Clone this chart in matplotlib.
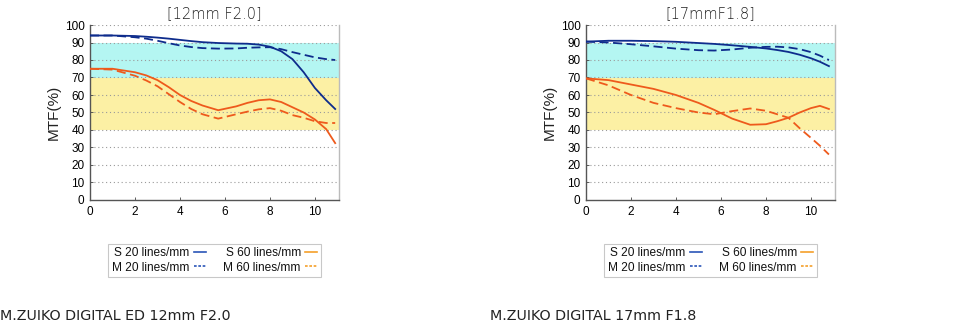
import matplotlib
matplotlib.use("Agg")
import matplotlib.pyplot as plt
from matplotlib.lines import Line2D

# image height (mm) for each lens
x_12 = [0, 1, 2, 2.5, 3, 3.5, 4, 4.5, 5, 5.7, 6.5, 7, 7.5, 8, 8.5, 9, 9.5, 10, 10.5, 10.9]
s20_12 = [94, 94, 93.7, 93.3, 92.8, 92.2, 91.5, 90.8, 90.2, 89.7, 89.4, 89.3, 88.8, 87.6, 85, 80.5, 73, 64, 57, 52]
m20_12 = [94, 94, 93, 92.2, 91, 89.6, 88.3, 87.4, 86.8, 86.5, 86.6, 87, 87.2, 87.3, 86.2, 84.5, 83, 81.5, 80.5, 80]
s60_12 = [75, 75, 73, 71.2, 68.5, 64.5, 60, 56.6, 54, 51.3, 53.5, 55.5, 57, 57.5, 56, 53, 50, 46, 40.5, 32.5]
m60_12 = [75, 74.5, 71, 68.3, 65, 60.5, 56, 52, 49, 46.5, 49, 50.5, 51.8, 52.5, 51, 48.5, 47, 45, 44, 44]

x_17 = [0, 1, 2, 3, 4, 5, 5.7, 6.5, 7.3, 8, 8.5, 9, 9.5, 10, 10.4, 10.8]
s20_17 = [90.5, 91, 91, 90.8, 90.4, 89.7, 89.2, 88.4, 87.5, 86.6, 85.7, 84.6, 83, 81, 79, 76.5]
m20_17 = [90.5, 90, 89, 87.8, 86.5, 85.6, 85.4, 86, 87, 87.5, 87.6, 87.2, 86.2, 84.5, 82.5, 80]
s60_17 = [69.5, 68.5, 66, 63.5, 60, 55.5, 51.5, 46.5, 43, 43.3, 45, 47, 50, 52.5, 53.8, 52]
m60_17 = [69.5, 65.5, 60, 55.5, 52.5, 50, 49, 50.8, 52.3, 51, 49, 47, 41, 35.5, 31, 26]

titles = ["[12mm F2.0]", "[17mmF1.8]"]
captions = ["M.ZUIKO DIGITAL ED 12mm F2.0", "M.ZUIKO DIGITAL 17mm F1.8"]
legend_labels = ["S 20 lines/mm", "M 20 lines/mm", "S 60 lines/mm", "M 60 lines/mm"]
yticks = list(range(0, 101, 10))
xticks = [0, 2, 4, 6, 8, 10]

blue = "#0e2c8c"
orange = "#ee5a1c"
blue_leg = "#2a55b8"
orange_leg = "#f5a02a"

plt.rcParams["font.family"] = ["Liberation Sans", "DejaVu Sans"]

fig = plt.figure(figsize=(9.77, 3.34), dpi=100)

lefts = [90 / 977, 586 / 977]
w = 249 / 977
bottom = 1 - 200 / 334
h = 175 / 334

series = [
    (x_12, s20_12, m20_12, s60_12, m60_12),
    (x_17, s20_17, m20_17, s60_17, m60_17),
]

for i in range(2):
    ax = fig.add_axes([lefts[i], bottom, w, h])
    xs, s20, m20, s60, m60 = series[i]
    ax.axhspan(70, 90, color="#b4f6f2", lw=0, zorder=0)
    ax.axhspan(40, 70, color="#fcf0a4", lw=0, zorder=0)
    for v in yticks[1:]:
        ax.axhline(v, color="#9a9a9a", lw=0.8, ls=(0, (1, 2.5)), zorder=1)

    ax.plot(xs, s20, color=blue, lw=1.3, zorder=3)
    ax.plot(xs, m20, color=blue, lw=1.3, ls=(0, (5, 2.5)), zorder=3)
    ax.plot(xs, s60, color=orange, lw=1.3, zorder=3)
    ax.plot(xs, m60, color=orange, lw=1.3, ls=(0, (5, 2.5)), zorder=3)

    ax.set_xlim(0, 11.07)
    ax.set_ylim(0, 100)
    ax.set_xticks(xticks)
    ax.set_yticks(yticks)
    ax.tick_params(direction="in", length=2, width=0.6, labelsize=8.5, pad=4, colors="#444444", labelcolor="black")
    ax.spines["top"].set_visible(False)
    ax.spines["left"].set_color("#555555")
    ax.spines["bottom"].set_color("#555555")
    ax.spines["right"].set_color("#bbbbbb")
    for s in ["left", "bottom", "right"]:
        ax.spines[s].set_linewidth(1.0)

    ax.set_title(titles[i], fontsize=10.5, color="#222222", pad=5, family="DejaVu Sans", fontweight="light")
    ax.set_ylabel("MTF(%)", fontsize=11, color="#222222", labelpad=3)

    handles = [
        Line2D([], [], color=blue_leg, lw=1.2),
        Line2D([], [], color=blue_leg, lw=1.2, ls=(0, (1.6, 1.0))),
        Line2D([], [], color=orange_leg, lw=1.2),
        Line2D([], [], color=orange_leg, lw=1.2, ls=(0, (1.6, 1.0))),
    ]
    leg = ax.legend(handles, legend_labels, loc="upper center", bbox_to_anchor=(0.5, -0.215),
                    ncol=2, markerfirst=False, fontsize=8.6, handlelength=1.0, handletextpad=0.35,
                    columnspacing=1.5, labelspacing=0.2, borderpad=0.3,
                    frameon=True, fancybox=False, edgecolor="#bbbbbb")
    leg.get_frame().set_linewidth(0.8)
    for t in leg.get_texts():
        t.set_color("#111111")

fig.text(0 / 977, 1 - 316 / 334, captions[0], fontsize=10.3, family="DejaVu Sans", color="#222222", va="center")
fig.text(490 / 977, 1 - 316 / 334, captions[1], fontsize=10.3, family="DejaVu Sans", color="#222222", va="center")

fig.savefig("out.png", dpi=100)
